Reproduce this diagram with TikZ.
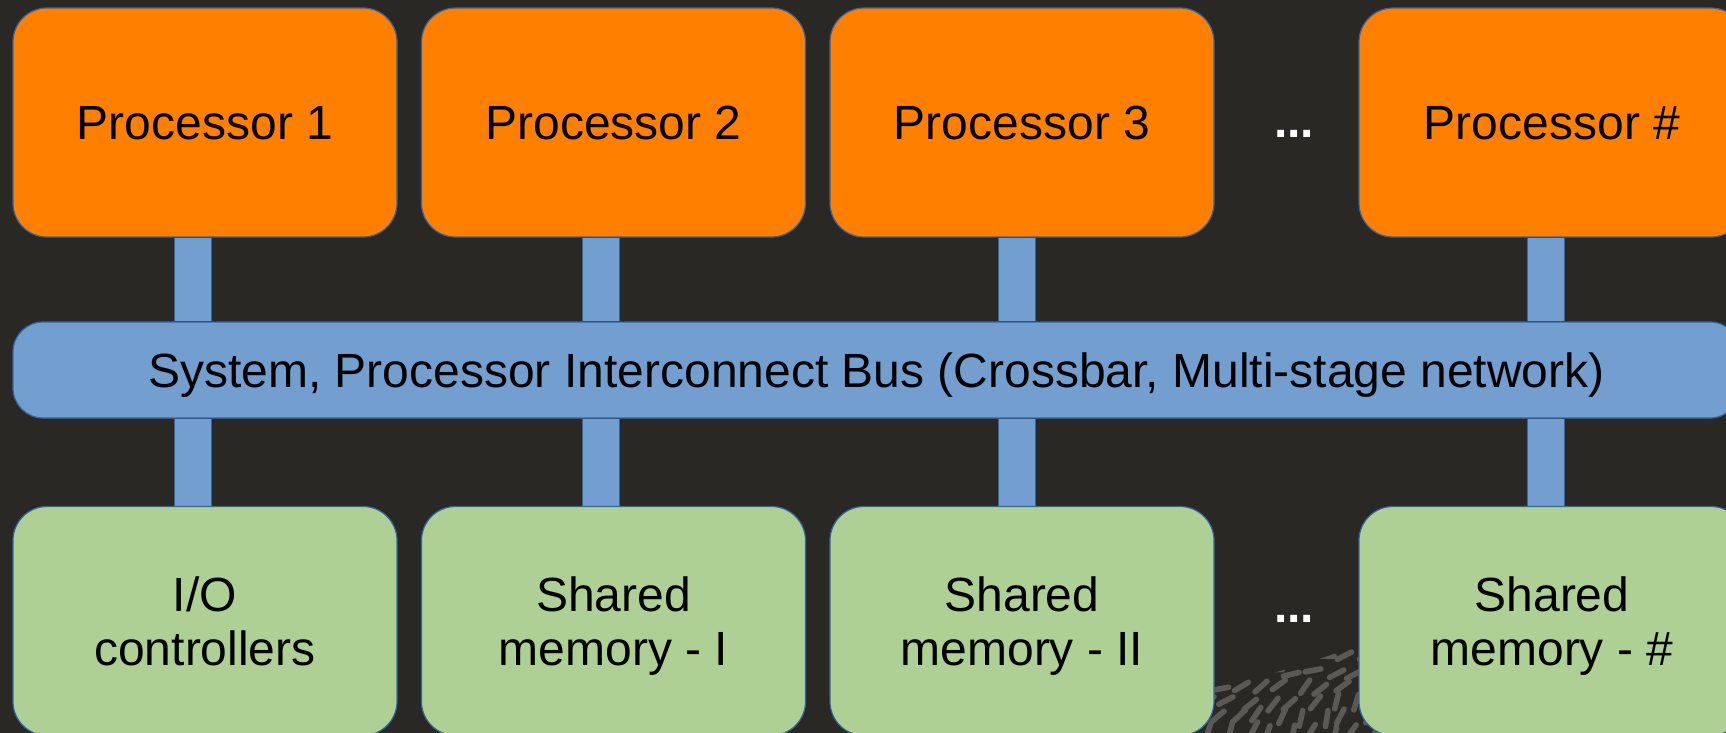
\documentclass[tikz,border=0pt]{standalone}
\usepackage{fontspec}
\setmainfont{Liberation Sans}
\usetikzlibrary{backgrounds}
\definecolor{slate}{RGB}{41,40,37}
\definecolor{cpuorange}{RGB}{255,128,0}
\definecolor{busblue}{RGB}{114,159,207}
\definecolor{memgreen}{RGB}{175,208,149}
\definecolor{edgeblue}{RGB}{52,101,164}
\definecolor{speckgrey}{RGB}{90,89,86}
\tikzset{ box/.style={draw=edgeblue, line width=0.6pt, rounded corners=17pt,
            minimum width=192pt, minimum height=114.5pt, inner sep=0pt,
            align=center, text depth=0pt, font=\fontsize{24}{27}\selectfont},
        cpu/.style={box, fill=cpuorange},
        mem/.style={box, fill=memgreen}}
\tikzset{ link/.style={draw=edgeblue, line width=0.5pt, double=busblue, double distance=18pt},
        more/.style={white, inner sep=0pt, anchor=base, font=\fontsize{24}{27}\selectfont\bfseries},
        speck/.style={draw=speckgrey, line width=2.8pt, line cap=round}}

\begin{document}
\begin{tikzpicture}[x=0.5pt,y=-0.5pt]

\useasboundingbox (0,0) rectangle (1726,733);
\begin{pgfonlayer}{background}
\fill[slate] (0,0) rectangle (1726,733);
\pgfmathsetseed{11}
\begin{scope}
\clip (1170,733) -- (1170,692) .. controls (1250,682) and (1310,668) .. (1430,615) -- (1430,733) -- cycle;
\foreach \i in {0,...,12} %specks
  \foreach \j in {0,...,8}{
    \pgfmathsetmacro\px{1166+\i*21+mod(\j,2)*10+rand*4}
    \pgfmathsetmacro\py{612+\j*15+rand*3}
    \pgfmathsetmacro\d{max(0,min(50,\py-685+(\px-1213)*0.26))}
    \pgfmathsetmacro\a{-12-\d*1.1+rand*15}
    \draw[speck] (\px,\py) ++(\a:-8) -- ++(\a:16);
  }
\end{scope}
\end{pgfonlayer}

\foreach \i/\x/\t in {1/205/Processor 1, 2/613.5/Processor 2, 3/1022/Processor 3} %processors
  \node[cpu] (p\i) at (\x,122.5) {\t};
\node[cpu, minimum width=193pt] (p4) at (1552,122.5) {Processor \#};

\foreach \i/\x/\t in {1/205/{I/O\\controllers}, 2/613.5/{Shared\\memory - I}, 3/1022/{Shared\\memory - II}} %memories
  \node[mem] (m\i) at (\x,621) {\t};
\node[mem, minimum width=193pt] (m4) at (1552,621) {Shared\\memory - \#};

\node[box, fill=busblue, minimum width=863.5pt, minimum height=48pt, rounded corners=15pt]
  (bus) at (876.5,370) {System, Processor Interconnect Bus (Crossbar, Multi-stage network)};

\node[more] (dtop) at (1294,138) {...};
\node[more] (dbot) at (1294,622) {...};

\begin{pgfonlayer}{background}
\foreach \i/\d in {1/-6.25, 2/-6.25, 3/-2.5, 4/-3} %bus links
{
  \coordinate (up\i) at ([xshift=\d pt]p\i.south);
  \coordinate (dn\i) at ([xshift=\d pt]m\i.north);
  \draw[link] (up\i) -- (up\i |- bus.north);
  \draw[link] (dn\i) -- (dn\i |- bus.south);
}
\end{pgfonlayer}

\end{tikzpicture}
\end{document}
